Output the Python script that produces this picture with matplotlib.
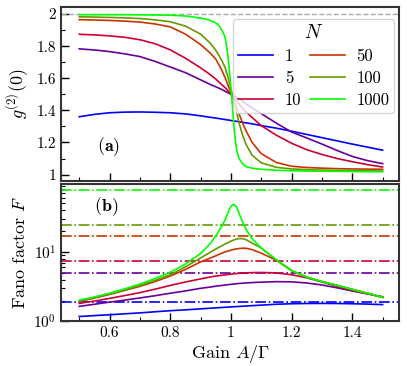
import numpy as np
import matplotlib
matplotlib.use('Agg')
import matplotlib.pyplot as plt
from matplotlib.ticker import MultipleLocator, FuncFormatter, NullFormatter, LogLocator

plt.rcParams['font.family'] = 'serif'
plt.rcParams['font.serif'] = ['cmr10']
plt.rcParams['mathtext.fontset'] = 'cm'
plt.rcParams['axes.formatter.use_mathtext'] = True

# data
N_values = [1, 5, 10, 50, 100, 1000]
gain = [0.5, 0.55, 0.6, 0.65, 0.7, 0.75, 0.8, 0.85, 0.9, 0.93, 0.95, 0.97, 0.98, 0.99, 1.0,
        1.01, 1.02, 1.03, 1.04, 1.05, 1.07, 1.1, 1.15, 1.2, 1.25, 1.3, 1.35, 1.4, 1.45, 1.5]
# N = 1000 is sharper, so it gets a finer gain grid
gain_1000 = [0.5, 0.55, 0.6, 0.65, 0.7, 0.75, 0.8, 0.85, 0.9, 0.93, 0.95, 0.96, 0.97, 0.98,
             0.985, 0.99, 0.995, 1.0, 1.005, 1.01, 1.015, 1.02, 1.025, 1.03, 1.04, 1.05, 1.07,
             1.1, 1.15, 1.2, 1.25, 1.3, 1.35, 1.4, 1.45, 1.5]

g2_N1 = [1.36, 1.375, 1.385, 1.389, 1.39, 1.388, 1.385, 1.378, 1.366, 1.357, 1.352, 1.346,
         1.343, 1.340, 1.337, 1.334, 1.331, 1.328, 1.325, 1.322, 1.316, 1.305, 1.289, 1.27,
         1.25, 1.23, 1.21, 1.19, 1.171, 1.152]
g2_N5 = [1.783, 1.776, 1.766, 1.752, 1.735, 1.705, 1.67, 1.635, 1.59, 1.563, 1.547, 1.53,
         1.52, 1.51, 1.50, 1.49, 1.48, 1.47, 1.455, 1.44, 1.415, 1.38, 1.32, 1.265, 1.228,
         1.19, 1.15, 1.113, 1.087, 1.068]
g2_N10 = [1.874, 1.870, 1.864, 1.855, 1.84, 1.815, 1.777, 1.725, 1.665, 1.625, 1.595, 1.56,
          1.543, 1.523, 1.50, 1.477, 1.455, 1.432, 1.41, 1.39, 1.355, 1.305, 1.245, 1.195,
          1.155, 1.125, 1.10, 1.08, 1.062, 1.047]
g2_N50 = [1.965, 1.963, 1.960, 1.956, 1.950, 1.938, 1.920, 1.875, 1.81, 1.76, 1.72, 1.65,
          1.607, 1.56, 1.51, 1.46, 1.41, 1.362, 1.315, 1.272, 1.20, 1.13, 1.075, 1.052,
          1.044, 1.04, 1.037, 1.035, 1.034, 1.033]
g2_N100 = [1.983, 1.981, 1.979, 1.976, 1.972, 1.964, 1.952, 1.925, 1.875, 1.822, 1.775, 1.71,
           1.67, 1.61, 1.535, 1.455, 1.375, 1.30, 1.237, 1.187, 1.12, 1.073, 1.045, 1.035,
           1.031, 1.028, 1.026, 1.025, 1.023, 1.022]
g2_N1000 = [1.996, 1.996, 1.996, 1.996, 1.995, 1.994, 1.993, 1.988, 1.975, 1.962, 1.945, 1.93,
            1.90, 1.86, 1.81, 1.74, 1.65, 1.54, 1.43, 1.30, 1.205, 1.145, 1.11, 1.09, 1.064,
            1.05, 1.04, 1.033, 1.027, 1.024, 1.022, 1.021, 1.02, 1.019, 1.018, 1.018]

F_N1 = [1.18, 1.215, 1.25, 1.29, 1.33, 1.38, 1.43, 1.47, 1.52, 1.55, 1.57, 1.59, 1.60, 1.61,
        1.62, 1.63, 1.64, 1.65, 1.66, 1.67, 1.69, 1.72, 1.77, 1.80, 1.815, 1.82, 1.815, 1.80,
        1.78, 1.75]
F_N5 = [1.65, 1.77, 1.90, 2.03, 2.18, 2.35, 2.55, 2.75, 3.0, 3.12, 3.22, 3.30, 3.34, 3.38,
        3.42, 3.46, 3.50, 3.53, 3.555, 3.58, 3.63, 3.68, 3.74, 3.72, 3.58, 3.35, 3.05, 2.75,
        2.5, 2.27]
F_N10 = [1.82, 1.97, 2.15, 2.36, 2.6, 2.92, 3.3, 3.7, 4.1, 4.35, 4.5, 4.62, 4.68, 4.74, 4.8,
         4.86, 4.9, 4.95, 4.98, 5.0, 5.05, 5.07, 5.0, 4.7, 4.25, 3.7, 3.2, 2.8, 2.5, 2.24]
F_N50 = [1.94, 2.17, 2.45, 2.8, 3.2, 3.75, 4.5, 5.6, 7.2, 8.1, 8.8, 9.6, 10.0, 10.3, 10.6,
         10.9, 11.1, 11.25, 11.3, 11.3, 10.8, 9.6, 7.6, 5.4, 4.35, 3.75, 3.3, 2.9, 2.55, 2.22]
F_N100 = [1.97, 2.2, 2.5, 2.85, 3.3, 3.9, 4.7, 6.1, 8.2, 9.8, 11.0, 12.3, 13.0, 13.6, 14.3,
          14.9, 15.4, 15.6, 15.5, 15.0, 13.4, 11.4, 7.7, 5.4, 4.35, 3.75, 3.3, 2.9, 2.55, 2.22]
F_N1000 = [2.03, 2.25, 2.55, 2.95, 3.45, 4.15, 5.1, 6.7, 9.5, 12.9, 17.0, 20.0, 23.5, 28.5,
           32.0, 36.5, 41.0, 45.0, 47.5, 48.0, 46.5, 43.0, 38.0, 33.0, 26.0, 21.0, 15.5, 11.4,
           7.7, 5.4, 4.35, 3.75, 3.3, 2.9, 2.55, 2.22]

# asymptotic Fano levels (dash-dot lines)
F_limit = [1.88, 5.0, 7.3, 17.2, 24.5, 77.0]

g2_series = [g2_N1, g2_N5, g2_N10, g2_N50, g2_N100, g2_N1000]
F_series = [F_N1, F_N5, F_N10, F_N50, F_N100, F_N1000]
x_series = [gain, gain, gain, gain, gain, gain_1000]

colors = plt.cm.brg(np.linspace(0, 1, len(N_values)))

fig = plt.figure(figsize=(4.07, 3.66), dpi=100)
ax1 = fig.add_axes([0.150, 0.5055, 0.831, 0.475])
ax2 = fig.add_axes([0.150, 0.1216, 0.831, 0.3757])

ax1.axhline(2, color='#aaaaaa', ls='--', lw=1.0)
for N, x, g2, c in zip(N_values, x_series, g2_series, colors):
    ax1.plot(x, g2, color=c, lw=1.2, label=str(N))

for N, x, F, Fl, c in zip(N_values, x_series, F_series, F_limit, colors):
    ax2.axhline(Fl, color=c, ls='-.', lw=1.2)
    ax2.plot(x, F, color=c, lw=1.2)

ax1.set_xlim(0.44, 1.555)
ax1.set_ylim(0.96, 2.043)
ax2.set_xlim(0.44, 1.555)
ax2.set_yscale('log')
ax2.set_ylim(1.0, 95)

fmt = FuncFormatter(lambda v, p: '%g' % v)
for ax in (ax1, ax2):
    ax.xaxis.set_major_locator(MultipleLocator(0.2))
    ax.xaxis.set_minor_locator(MultipleLocator(0.1))
    ax.xaxis.set_major_formatter(fmt)
    ax.tick_params(which='both', direction='in', labelsize=11)
    ax.tick_params(which='major', length=6, width=1.0)
    ax.tick_params(which='minor', length=3, width=0.8)
    for sp in ax.spines.values():
        sp.set_linewidth(1.5)
        sp.set_color('#333333')

ax1.yaxis.set_major_locator(MultipleLocator(0.2))
ax1.yaxis.set_minor_locator(MultipleLocator(0.1))
ax1.yaxis.set_major_formatter(fmt)
ax1.tick_params(axis='x', labelbottom=False)

ax2.yaxis.set_major_locator(LogLocator(base=10))
ax2.yaxis.set_minor_locator(LogLocator(base=10, subs=np.arange(2, 10)))
ax2.yaxis.set_minor_formatter(NullFormatter())

ax1.set_ylabel(r'$g^{(2)}(0)$', fontsize=13, labelpad=4)
ax2.set_ylabel(r'Fano factor $F$', fontsize=13, labelpad=4)
ax2.set_xlabel(r'Gain $A/\Gamma$', fontsize=13, labelpad=2)
fig.align_ylabels([ax1, ax2])

ax1.text(0.105, 0.195, r'$\mathbf{(a)}$', transform=ax1.transAxes, fontsize=13, va='center')
ax2.text(0.098, 0.833, r'$\mathbf{(b)}$', transform=ax2.transAxes, fontsize=13, va='center')

leg = ax1.legend(ncol=2, title=r'$N$', fontsize=12, title_fontsize=14, loc='upper right',
                 bbox_to_anchor=(0.985, 0.931), borderaxespad=0.0, borderpad=0.3,
                 columnspacing=0.5, handletextpad=0.7, labelspacing=0.4,
                 handlelength=2.1)

fig.savefig('out.png', dpi=100)
